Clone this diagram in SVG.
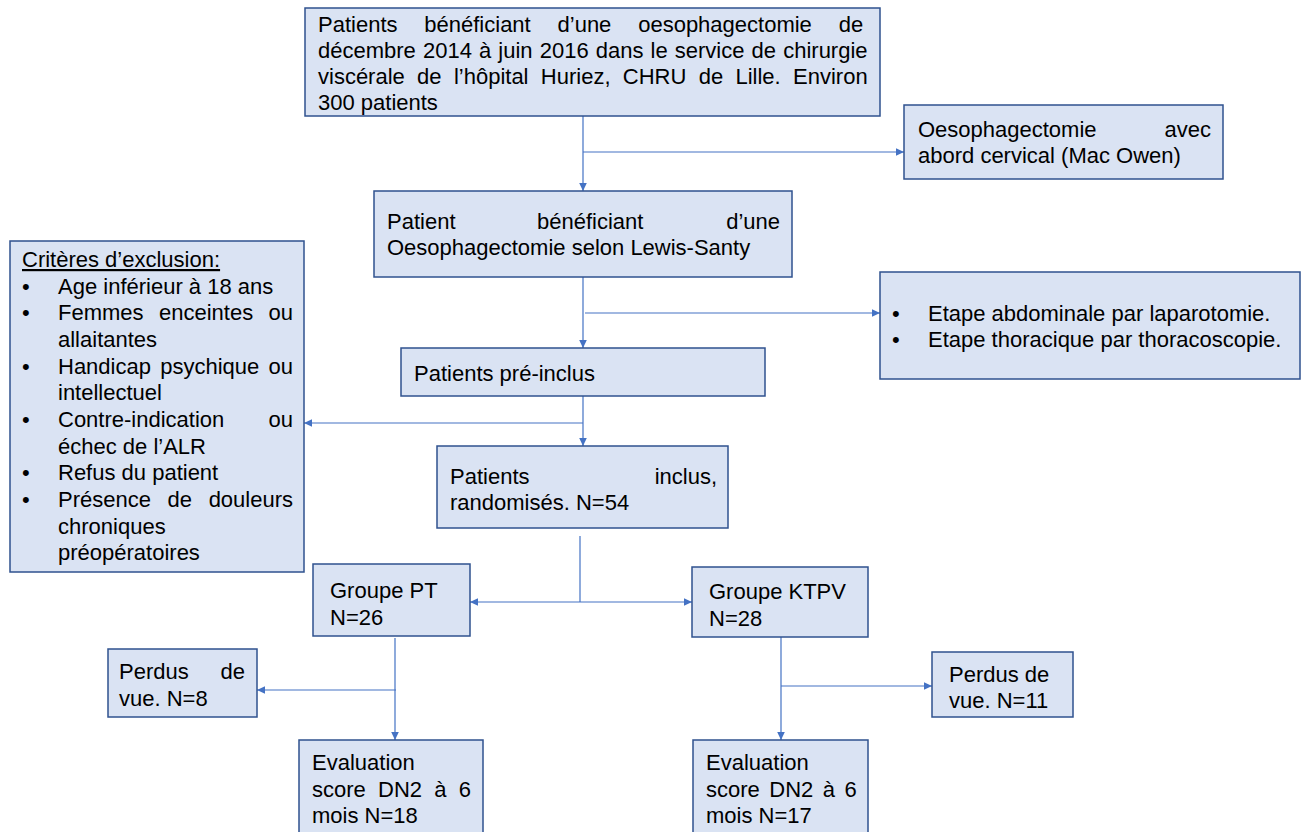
<svg xmlns="http://www.w3.org/2000/svg" width="1308" height="832" viewBox="0 0 1308 832">
<style>
.box{fill:#DAE3F3;stroke:#2F528F;stroke-width:1.5}
text{font-family:"Liberation Sans",Arial,sans-serif;font-size:22px;fill:#000}
.e{text-anchor:end}
.c{fill:none;stroke:#4472C4;stroke-width:1.2}
</style>
<defs>
<marker id="ah" markerUnits="userSpaceOnUse" markerWidth="10" markerHeight="10" viewBox="0 0 10 10" refX="9" refY="5" orient="auto">
<path d="M1,1.2 L9,5 L1,8.8 Z" fill="#4472C4"/>
</marker>
</defs>
<rect width="1308" height="832" fill="#fff"/>

<g id="connectors">
<path class="c" d="M583,116 V191" marker-end="url(#ah)"/>
<path class="c" d="M583,152 H904" marker-end="url(#ah)"/>
<path class="c" d="M583,277 V348" marker-end="url(#ah)"/>
<path class="c" d="M585,313 H880" marker-end="url(#ah)"/>
<path class="c" d="M583,396 V446" marker-end="url(#ah)"/>
<path class="c" d="M583,423 H304" marker-end="url(#ah)"/>
<path class="c" d="M580,536 V602"/>
<path class="c" d="M580,602 H470" marker-end="url(#ah)"/>
<path class="c" d="M580,602 H692" marker-end="url(#ah)"/>
<path class="c" d="M395,638 V740" marker-end="url(#ah)"/>
<path class="c" d="M396,690 H257" marker-end="url(#ah)"/>
<path class="c" d="M781,637 V740" marker-end="url(#ah)"/>
<path class="c" d="M781,686 H932" marker-end="url(#ah)"/>
</g>

<g id="n1">
<rect class="box" x="305" y="8" width="575" height="108"/>
<text x="318" y="32" word-spacing="20.7">Patients bénéficiant d’une oesophagectomie de</text>
<text x="318" y="58" word-spacing="1">décembre 2014 à juin 2016 dans le service de chirurgie</text>
<text x="318" y="84" word-spacing="6.2">viscérale de l’hôpital Huriez, CHRU de Lille. Environ</text>
<text x="318" y="110">300 patients</text>
</g>

<g id="n2">
<rect class="box" x="904" y="105" width="319" height="74"/>
<text x="918" y="137">Oesophagectomie</text>
<text class="e" x="1211" y="137">avec</text>
<text x="918" y="163">abord cervical (Mac Owen)</text>
</g>

<g id="n3">
<rect class="box" x="374" y="191" width="418" height="86"/>
<text x="387" y="229">Patient</text>
<text x="537" y="229">bénéficiant</text>
<text class="e" x="780" y="229">d’une</text>
<text x="387" y="255">Oesophagectomie selon Lewis-Santy</text>
</g>

<g id="n4">
<rect class="box" x="880" y="272" width="420" height="107"/>
<text x="892" y="321">•</text>
<text x="928" y="321">Etape abdominale par laparotomie.</text>
<text x="892" y="347">•</text>
<text x="928" y="347">Etape thoracique par thoracoscopie.</text>
</g>

<g id="n5">
<rect class="box" x="10" y="241" width="294" height="331"/>
<text x="22" y="267" text-decoration="underline">Critères d’exclusion:</text>
<text x="22" y="294">•</text><text x="58" y="294">Age inférieur à 18 ans</text>
<text x="22" y="320">•</text><text x="58" y="320" word-spacing="9.3">Femmes enceintes ou</text>
<text x="58" y="347">allaitantes</text>
<text x="22" y="374">•</text><text x="58" y="374" word-spacing="3.1">Handicap psychique ou</text>
<text x="58" y="400">intellectuel</text>
<text x="22" y="427">•</text><text x="58" y="427">Contre-indication</text><text class="e" x="293" y="427">ou</text>
<text x="58" y="454">échec de l’ALR</text>
<text x="22" y="480">•</text><text x="58" y="480">Refus du patient</text>
<text x="22" y="507">•</text><text x="58" y="507" word-spacing="10.5">Présence de douleurs</text>
<text x="58" y="534">chroniques</text>
<text x="58" y="560">préopératoires</text>
</g>

<g id="n6">
<rect class="box" x="401" y="348" width="364" height="48"/>
<text x="414" y="381">Patients pré-inclus</text>
</g>

<g id="n7">
<rect class="box" x="437" y="446" width="291" height="82"/>
<text x="450" y="484">Patients</text>
<text class="e" x="717" y="484">inclus,</text>
<text x="450" y="510">randomisés. N=54</text>
</g>

<g id="n8">
<rect class="box" x="313" y="564" width="157" height="72"/>
<text x="330" y="598">Groupe PT</text>
<text x="330" y="625">N=26</text>
</g>

<g id="n9">
<rect class="box" x="692" y="567" width="176" height="70"/>
<text x="709" y="599">Groupe KTPV</text>
<text x="709" y="626">N=28</text>
</g>

<g id="n10">
<rect class="box" x="108" y="649" width="149" height="68"/>
<text x="119" y="679">Perdus</text>
<text class="e" x="245" y="679">de</text>
<text x="119" y="706">vue. N=8</text>
</g>

<g id="n11">
<rect class="box" x="932" y="652" width="141" height="65"/>
<text x="949" y="682">Perdus de</text>
<text x="949" y="708">vue. N=11</text>
</g>

<g id="n12">
<rect class="box" x="299" y="740" width="184" height="100"/>
<text x="312" y="770">Evaluation</text>
<text x="312" y="797" word-spacing="6.1">score DN2 à 6</text>
<text x="312" y="823">mois N=18</text>
</g>

<g id="n13">
<rect class="box" x="693" y="740" width="175" height="100"/>
<text x="706" y="770">Evaluation</text>
<text x="706" y="797" word-spacing="3.4">score DN2 à 6</text>
<text x="706" y="823">mois N=17</text>
</g>
</svg>
